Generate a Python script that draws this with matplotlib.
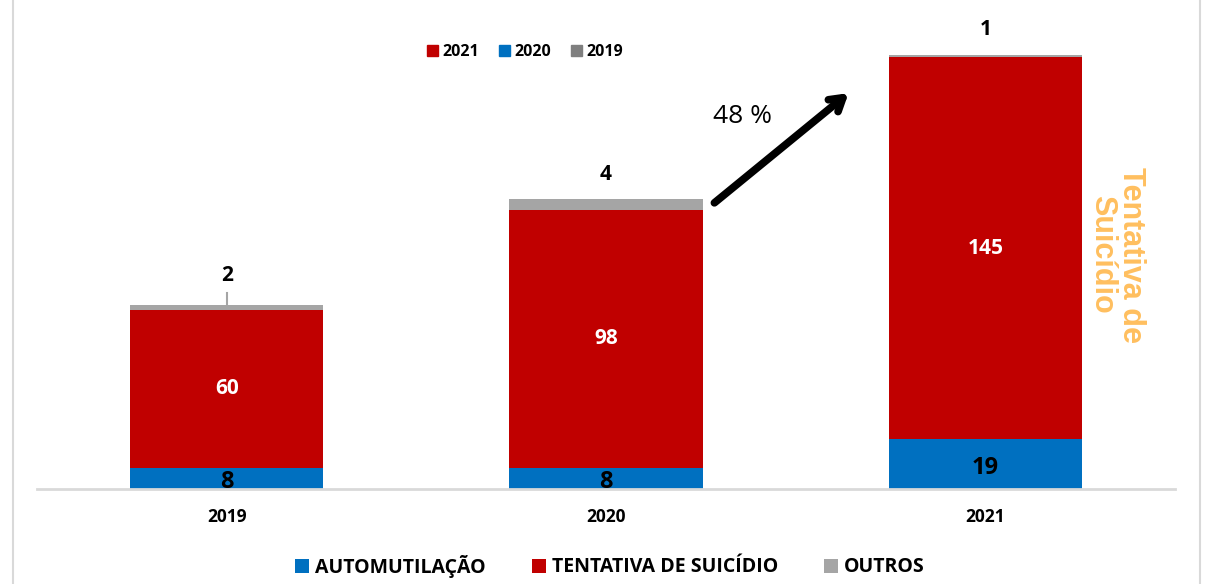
import matplotlib.pyplot as plt
from matplotlib.lines import Line2D
from matplotlib.patches import Patch

plt.rcParams['font.family'] = ['Open Sans', 'DejaVu Sans']

anos = ['2019', '2020', '2021']
automutilacao = [8, 8, 19]
tentativa = [60, 98, 145]
outros = [2, 4, 1]
variacao = '48 %'

c_auto = '#0070C0'
c_tent = '#C00000'
c_out = '#A5A5A5'

fig = plt.figure(figsize=(12.14, 5.84), dpi=100)
ax = fig.add_axes([0.0305, 0.1627, 0.9374, 0.762])

x = range(len(anos))
w = 0.51
base2 = [a + t for a, t in zip(automutilacao, tentativa)]
ax.bar(x, automutilacao, w, color=c_auto, label='AUTOMUTILAÇÃO')
ax.bar(x, tentativa, w, bottom=automutilacao, color=c_tent, label='TENTATIVA DE SUICÍDIO')
ax.bar(x, outros, w, bottom=base2, color=c_out, label='OUTROS')

ax.set_xlim(-0.5, 2.5)
ax.set_ylim(0, 169)

# rotulos
for i in x:
    ax.text(i, automutilacao[i] / 2 - 1.5, str(automutilacao[i]), ha='center', va='center',
            fontsize=17, fontweight='bold', color='black')
    ax.text(i, automutilacao[i] + tentativa[i] / 2, str(tentativa[i]), ha='center', va='center',
            fontsize=15, fontweight='bold', color='white')
    top = base2[i] + outros[i]
    off = 11 if i == 0 else 9.5
    ax.text(i, top + off, str(outros[i]), ha='center', va='center',
            fontsize=15, fontweight='bold', color='black', clip_on=False)
# linha guia do 2019
ax.plot([0, 0], [base2[0] + outros[0], base2[0] + outros[0] + 4.5], color='#A5A5A5', lw=1.5)

ax.set_xticks(list(x))
ax.set_xticklabels(anos, fontsize=12.5, fontweight='bold')
ax.tick_params(axis='x', length=0, pad=14)
ax.set_yticks([])
for s in ['top', 'left', 'right']:
    ax.spines[s].set_visible(False)
ax.spines['bottom'].set_color('#D9D9D9')
ax.spines['bottom'].set_linewidth(2)

# seta de variacao
ax.annotate('', xy=(1.645, 151), xytext=(1.28, 108),
            arrowprops=dict(arrowstyle='->,head_length=0.9,head_width=0.55', lw=5.5,
                            color='black', capstyle='round', joinstyle='round'))
ax.text(1.36, 141.5, variacao, ha='center', va='center', fontsize=19, color='black')

ax.text(2.345, 89, 'Tentativa de\nSuicídio', rotation=-90, ha='center', va='center',
        fontsize=22, fontweight='bold', color='#FFBF5F', linespacing=0.95,
        family=['Liberation Sans', 'DejaVu Sans'])

# legenda superior
top_handles = [Patch(color=c_tent), Patch(color=c_auto), Patch(color='#7F7F7F')]
fig.legend(top_handles, ['2021', '2020', '2019'], loc='center', bbox_to_anchor=(525 / 1214, 1 - 52 / 584),
           ncol=3, frameon=False, prop={'size': 11.5, 'weight': 'bold'},
           handlelength=0.7, handleheight=0.7, handletextpad=0.3, columnspacing=1.2)

# legenda inferior
h, l = ax.get_legend_handles_labels()
fig.legend(h, l, loc='center', bbox_to_anchor=(610 / 1214, 1 - 566 / 584), ncol=3, frameon=False,
           prop={'size': 14, 'weight': 'bold', 'family': ['Liberation Sans Narrow', 'Open Sans', 'DejaVu Sans']},
           handlelength=0.7, handleheight=0.7, handletextpad=0.3, columnspacing=2.4)

# moldura
fig.add_artist(Line2D([13 / 1214, 13 / 1214], [0, 1], color='#D9D9D9', lw=1.5))
fig.add_artist(Line2D([1200 / 1214, 1200 / 1214], [0, 1], color='#D9D9D9', lw=1.5))

fig.savefig('out.png', dpi=100)
